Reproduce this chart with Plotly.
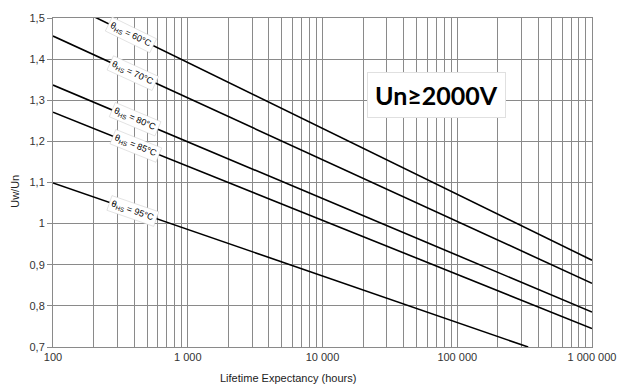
import numpy as np
import plotly.graph_objects as go

# Data
hours = [100, 1000000]
series_names = ["60°C", "70°C", "80°C", "85°C", "95°C"]
u_60 = [1.552, 0.911]
u_70 = [1.456, 0.855]
u_80 = [1.337, 0.785]
u_85 = [1.271, 0.745]
hours_95 = [100, 336000]
u_95 = [1.099, 0.700]

series = [
    (hours, u_60),
    (hours, u_70),
    (hours, u_80),
    (hours, u_85),
    (hours_95, u_95),
]

y_ticks = [0.7, 0.8, 0.9, 1.0, 1.1, 1.2, 1.3, 1.4, 1.5]
y_ticklabels = ["0,7", "0,8", "0,9", "1", "1,1", "1,2", "1,3", "1,4", "1,5"]
x_decades = [100, 1000, 10000, 100000, 1000000]
x_decade_labels = ["100", "1 000", "10 000", "100 000", "1 000 000"]

# all 1..9 multiples for grid
x_tickvals = []
x_ticktext = []
for i, d in enumerate(x_decades[:-1]):
    for m in range(1, 10):
        x_tickvals.append(d * m)
        x_ticktext.append(x_decade_labels[i] if m == 1 else "")
x_tickvals.append(x_decades[-1])
x_ticktext.append(x_decade_labels[-1])

fig = go.Figure()
for (xs, ys), name in zip(series, series_names):
    fig.add_trace(go.Scatter(x=xs, y=ys, mode="lines", name=name,
                             line=dict(color="black", width=1.6),
                             showlegend=False, hoverinfo="skip"))

# plot geometry for angles
L, R, T, B = 53, 31, 15, 38
W, H = 628, 385
pw = W - L - R
ph = H - T - B
px_per_dec = pw / 4.0
px_per_unit = ph / 0.8

label_logx = [2.58, 2.59, 2.605, 2.618, 2.593]
for (xs, ys), name, lx in zip(series, series_names, label_logx):
    lxs = np.log10(xs)
    ly = float(np.interp(lx, lxs, ys))
    slope = (ys[1] - ys[0]) / (lxs[1] - lxs[0])
    ang = np.degrees(np.arctan(-slope * px_per_unit / px_per_dec))
    fig.add_annotation(x=lx, y=ly, xref="x", yref="y",
                       xanchor="center", yanchor="middle",
                       text="θ<sub>HS</sub> = " + name, showarrow=False,
                       textangle=ang, bgcolor="white",
                       bordercolor="#cccccc", borderwidth=0.5, borderpad=2,
                       font=dict(family="Liberation Sans, Arial", size=9, color="black"))


def px(xp, yp):
    return dict(xref="paper", yref="paper", x=(xp - L) / pw, y=(H - B - yp) / ph,
                xanchor="center", yanchor="middle")


fig.add_annotation(**px(440, 93),
                   text="<b>Un≥2000V</b>", showarrow=False,
                   bgcolor="white", bordercolor="#e0e0e0", borderwidth=1,
                   borderpad=7,
                   font=dict(family="Lato, Open Sans, sans-serif", size=25, color="black"))

fig.add_annotation(**px(290, 378),
                   text="Lifetime Expectancy (hours)", showarrow=False,
                   font=dict(family="Liberation Sans, Arial", size=11, color="#222222"))
fig.add_annotation(**px(15, 190),
                   text="Uw/Un", showarrow=False, textangle=-90,
                   font=dict(family="Liberation Sans, Arial", size=11, color="#222222"))

fig.update_xaxes(type="log", range=[2, 6], tickvals=x_tickvals, ticktext=x_ticktext,
                 showgrid=True, gridcolor="#8a8a8a", gridwidth=1,
                 showline=True, linecolor="#8a8a8a", linewidth=1, mirror=True,
                 ticks="", zeroline=False,
                 tickfont=dict(family="Liberation Sans, Arial", size=11, color="#333333"))
fig.update_yaxes(range=[0.7, 1.5], tickvals=y_ticks, ticktext=y_ticklabels,
                 showgrid=True, gridcolor="#8a8a8a", gridwidth=1,
                 showline=True, linecolor="#8a8a8a", linewidth=1, mirror=True,
                 ticks="outside", ticklen=5, tickcolor="#8a8a8a", zeroline=False,
                 tickfont=dict(family="Liberation Sans, Arial", size=11, color="#333333"))

fig.update_layout(width=W, height=H, margin=dict(l=L, r=R, t=T, b=B),
                  plot_bgcolor="white", paper_bgcolor="white")

fig.write_html("out.html")
